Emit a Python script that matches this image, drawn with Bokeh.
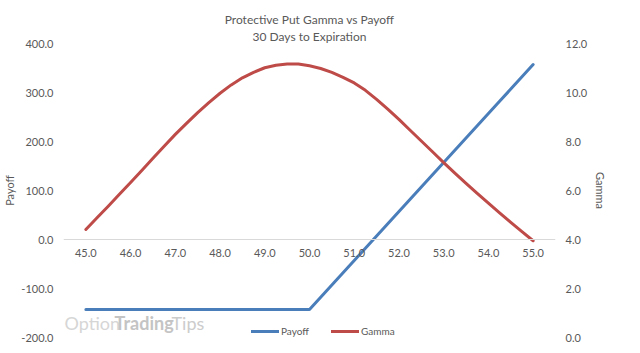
from bokeh.plotting import figure
from bokeh.models import (Range1d, LinearAxis, Legend, LegendItem, Label, Title,
                          FixedTicker, NumeralTickFormatter, ColumnDataSource)
from bokeh.embed import file_html
from bokeh.resources import INLINE

# ---- data ----
stock_price = [45.00, 45.25, 45.50, 45.75, 46.00, 46.25, 46.50, 46.75, 47.00, 47.25,
               47.50, 47.75, 48.00, 48.25, 48.50, 48.75, 49.00, 49.25, 49.50, 49.75,
               50.00, 50.25, 50.50, 50.75, 51.00, 51.25, 51.50, 51.75, 52.00, 52.25,
               52.50, 52.75, 53.00, 53.25, 53.50, 53.75, 54.00, 54.25, 54.50, 54.75,
               55.00]
payoff = [-143, -143, -143, -143, -143, -143, -143, -143, -143, -143,
          -143, -143, -143, -143, -143, -143, -143, -143, -143, -143,
          -143, -118, -93, -68, -43, -18, 7, 32, 57, 82,
          107, 132, 157, 182, 207, 232, 257, 282, 307, 332,
          357]
gamma = [4.41, 4.89, 5.36, 5.85, 6.33, 6.82, 7.32, 7.81, 8.29, 8.74,
         9.18, 9.59, 9.97, 10.31, 10.60, 10.82, 11.01, 11.11, 11.16, 11.16,
         11.09, 10.98, 10.82, 10.62, 10.39, 10.09, 9.72, 9.32, 8.90, 8.46,
         8.02, 7.58, 7.14, 6.71, 6.29, 5.88, 5.48, 5.09, 4.70, 4.32,
         3.95]
x_ticks = [45, 46, 47, 48, 49, 50, 51, 52, 53, 54, 55]
payoff_ticks = [-200, -100, 0, 100, 200, 300, 400]
gamma_ticks = [0, 2, 4, 6, 8, 10, 12]
title_lines = ["Protective Put Gamma vs Payoff", "30 Days to Expiration"]

FONT = "Lato"
TXT = "#595959"
BLUE = "#4a7ebb"
RED = "#be4b48"

src = ColumnDataSource(dict(x=stock_price, payoff=payoff, gamma=gamma))

p = figure(width=640, height=353, output_backend="svg", toolbar_location=None,
           x_range=Range1d(44.5, 55.5), y_range=Range1d(-200, 400),
           min_border_left=62, min_border_right=85, min_border_top=43,
           min_border_bottom=16, title=None)
p.outline_line_color = None
p.background_fill_color = "white"
p.border_fill_color = "white"
p.grid.visible = False

# two centred title lines (first added is closest to the frame)
for line in (title_lines[1], title_lines[0]):
    t = Title(text=line, align="center", text_font=FONT, text_font_size="12px",
              text_font_style="normal", text_color=TXT, standoff=0, offset=0)
    p.add_layout(t, "above")

p.extra_y_ranges = {"gamma": Range1d(0, 12)}

# x axis positioned at payoff 0
xa = p.xaxis[0]
xa.fixed_location = 0
xa.ticker = FixedTicker(ticks=x_ticks)
xa.formatter = NumeralTickFormatter(format="0.0")
xa.axis_line_color = "#d9d9d9"
xa.major_tick_line_color = None
xa.minor_tick_line_color = None
xa.major_tick_out = 0
xa.major_tick_in = 0
xa.major_label_standoff = 9
xa.major_label_text_font = FONT
xa.major_label_text_font_size = "11px"
xa.major_label_text_color = TXT

ya = p.yaxis[0]
ya.ticker = FixedTicker(ticks=payoff_ticks)
ya.formatter = NumeralTickFormatter(format="0.0")
ya.axis_label = "Payoff"

ra = LinearAxis(y_range_name="gamma", ticker=FixedTicker(ticks=gamma_ticks),
                formatter=NumeralTickFormatter(format="0.0"), axis_label="Gamma")
p.add_layout(ra, "right")

for ax, lab_off in ((ya, 2), (ra, 4)):
    ax.axis_line_color = None
    ax.major_tick_line_color = None
    ax.minor_tick_line_color = None
    ax.major_tick_out = 0
    ax.major_tick_in = 0
    ax.major_label_standoff = 10
    ax.axis_label_standoff = lab_off
    ax.major_label_text_font = FONT
    ax.major_label_text_font_size = "11px"
    ax.major_label_text_color = TXT
    ax.axis_label_text_font = FONT
    ax.axis_label_text_font_size = "11px"
    ax.axis_label_text_font_style = "normal"
    ax.axis_label_text_color = TXT

r_pay = p.line("x", "payoff", source=src, line_color=BLUE, line_width=3,
               line_cap="round", line_join="round")
r_gam = p.line("x", "gamma", source=src, y_range_name="gamma", line_color=RED,
               line_width=3, line_cap="round", line_join="round")

legend = Legend(items=[LegendItem(label="Payoff", renderers=[r_pay]),
                       LegendItem(label="Gamma", renderers=[r_gam])],
                orientation="horizontal", location=(188, 0),
                background_fill_alpha=0, border_line_color=None,
                label_text_font=FONT, label_text_font_size="10px",
                label_text_color=TXT, glyph_width=28, glyph_height=12,
                label_height=12, label_standoff=2, spacing=22,
                padding=0, margin=0)
p.add_layout(legend, "center")

# faint watermark (screen units relative to the plot frame), under the data
wm = [("Option", 1, "normal", "#d6d6d6"),
      ("Trading", 51, "bold", "#c4c4c4"),
      ("Tips", 108, "normal", "#cccccc")]
for txt, xx, style, col in wm:
    p.add_layout(Label(x=xx, y=4, x_units="screen", y_units="screen", text=txt,
                       text_font=FONT, text_font_size="18px",
                       text_font_style=style, text_color=col, level="underlay"))

open("out.html", "w").write(file_html(p, INLINE))
